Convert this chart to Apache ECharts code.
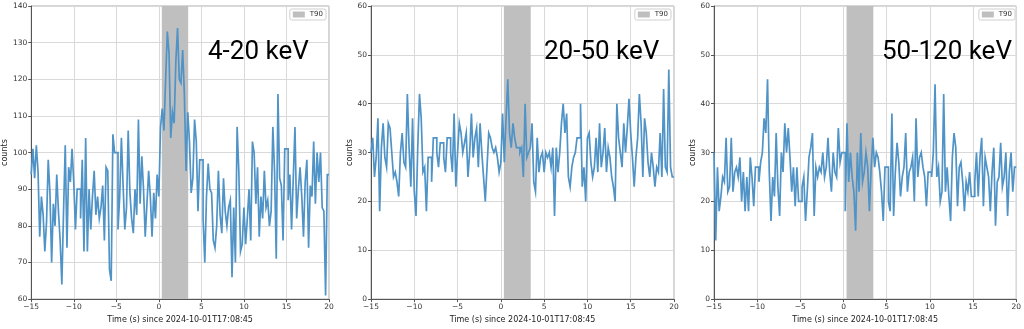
<!DOCTYPE html>
<html>
<head>
<meta charset="utf-8">
<script src="https://cdn.jsdelivr.net/npm/echarts@6/dist/echarts.min.js"></script>
<style>
  html, body { margin: 0; padding: 0; background: #fff; }
  #chart { width: 1024px; height: 329px; }
</style>
</head>
<body>
<div id="chart"></div>
<script>
// Light curves in three energy bands, 0.2 s bins starting at t = -15 s
const binStart = -15;
const binWidth = 0.2;
const t90Window = [0.35, 3.45];
const bandLabels = ['4-20 keV', '20-50 keV', '50-120 keV'];
const xTitle = 'Time (s) since 2024-10-01T17:08:45';
const yTitle = 'counts';

const counts4to20 = [
  94, 101, 93, 102, 95, 77, 88, 83, 73, 81, 98, 89, 70, 86, 80, 94, 84, 76, 64, 84, 102, 74, 96, 92, 101,
  92, 79, 90, 90, 82, 98, 73, 104, 73, 90, 79, 88, 95, 83, 88, 82, 85, 91, 76, 96, 95, 68, 65, 105, 100,
  100, 79, 88, 104, 91, 79, 85, 106, 89, 82, 78, 90, 83, 109, 86, 99, 90, 77, 86, 95, 88, 77, 89, 82, 94,
  88, 107, 112, 106, 120, 133, 127, 104, 111, 108, 125, 134, 120, 119, 128, 116, 95, 111, 103, 89, 93, 109, 103, 84, 98,
  98, 82, 70, 88, 97, 90, 89, 76, 74, 80, 95, 83, 78, 93, 84, 80, 85, 87, 66, 85, 70, 107, 95, 73, 75,
  85, 75, 82, 90, 76, 103, 100, 86, 96, 77, 88, 82, 95, 85, 87, 80, 84, 107, 95, 71, 116, 93, 91, 76, 101,
  101, 87, 94, 79, 93, 107, 82, 90, 96, 88, 77, 92, 98, 74, 91, 88, 103, 86, 100, 92, 100, 85, 84, 61, 94
];
const counts20to50 = [
  30, 33, 25, 29, 37, 18, 31, 36, 29, 27, 36, 35, 30, 25, 26, 24, 21, 30, 34, 28, 27, 42, 31, 23, 37,
  22, 17, 31, 42, 37, 26, 27, 18, 29, 29, 24, 33, 33, 30, 27, 32, 32, 29, 26, 33, 33, 30, 26, 38, 23,
  30, 36, 34, 30, 32, 34, 25, 30, 38, 29, 33, 35, 27, 36, 30, 25, 20, 27, 34, 33, 31, 30, 31, 29, 26,
  28, 38, 28, 37, 45, 34, 31, 36, 33, 31, 31, 30, 31, 25, 40, 29, 30, 31, 36, 24, 22, 33, 26, 29, 30,
  26, 30, 29, 30, 27, 31, 17, 31, 26, 30, 36, 40, 34, 38, 25, 23, 27, 29, 30, 33, 33, 40, 23, 27, 20,
  33, 34, 28, 25, 27, 33, 26, 36, 27, 30, 35, 26, 31, 29, 25, 23, 20, 40, 33, 30, 27, 36, 30, 35, 41,
  34, 29, 23, 29, 33, 42, 36, 25, 37, 34, 28, 25, 30, 27, 23, 27, 26, 34, 25, 43, 27, 26, 47, 27, 25
];
const counts50to120 = [
  30, 12, 27, 18, 21, 25, 24, 33, 22, 23, 33, 22, 26, 27, 25, 29, 20, 26, 18, 25, 18, 29, 25, 19, 27,
  27, 24, 28, 30, 37, 34, 45, 26, 16, 25, 21, 34, 23, 17, 30, 26, 36, 30, 35, 29, 22, 27, 19, 27, 20,
  20, 23, 25, 16, 22, 29, 31, 34, 17, 27, 25, 27, 26, 30, 25, 27, 33, 26, 22, 30, 26, 25, 35, 28, 30,
  30, 18, 36, 24, 30, 25, 22, 14, 30, 22, 34, 24, 26, 30, 27, 18, 27, 33, 27, 30, 29, 26, 22, 16, 27,
  27, 20, 18, 38, 17, 26, 32, 28, 21, 25, 27, 34, 22, 26, 27, 29, 20, 37, 25, 29, 30, 27, 25, 19, 26,
  26, 25, 30, 44, 25, 27, 20, 22, 42, 22, 27, 21, 16, 29, 34, 31, 19, 27, 28, 24, 18, 24, 22, 26, 21,
  21, 24, 30, 21, 29, 33, 19, 29, 27, 25, 18, 26, 31, 15, 24, 25, 32, 23, 25, 30, 17, 26, 30, 22, 27
];
const bandCounts = [counts4to20, counts20to50, counts50to120];
const yRanges = [[60, 140], [0, 60], [0, 60]];

// panel geometry (px)
const panels = [
  { left: 26, width: 303, titleLeft: 208 },
  { left: 371, width: 303, titleLeft: 544 },
  { left: 714, width: 304, titleLeft: 882 }
];
const gridTop = 6, gridHeight = 301;

const lineColor = '#4f93c7';
const shadeColor = '#bfbfbf';
const fontFam = '"DejaVu Sans", sans-serif';

function fmtTick(v) {
  return v < 0 ? '\u2212' + Math.abs(v) : String(v);
}

// histogram outline: each bin contributes its left and right edge at its count
function stepData(vals) {
  const d = [];
  vals.forEach((v, i) => {
    const a = +(binStart + i * binWidth).toFixed(3);
    const b = +(binStart + (i + 1) * binWidth).toFixed(3);
    d.push([a, v], [b, v]);
  });
  return d;
}

const grid = [], xAxis = [], yAxis = [], series = [], title = [], legend = [];

panels.forEach((p, i) => {
  grid.push({
    left: p.left, top: gridTop, width: p.width, height: gridHeight,
    show: true, borderColor: '#aaaaaa', borderWidth: 1, backgroundColor: '#fff'
  });
  xAxis.push({
    type: 'value', gridIndex: i, min: -15, max: 20, interval: 5,
    name: xTitle, nameLocation: 'middle', nameGap: 15,
    nameTextStyle: { fontSize: 8, color: '#222', fontFamily: fontFam },
    axisLine: { show: true, onZero: false, lineStyle: { color: '#555', width: 1 } },
    axisTick: { show: true, length: 3, lineStyle: { color: '#555' } },
    axisLabel: { fontSize: 7.5, color: '#333', margin: 4, formatter: fmtTick, fontFamily: fontFam },
    splitLine: { show: true, lineStyle: { color: '#d9d9d9', width: 1 } }
  });
  yAxis.push({
    type: 'value', gridIndex: i, min: yRanges[i][0], max: yRanges[i][1], interval: 10,
    name: yTitle, nameLocation: 'middle', nameGap: i === 0 ? 18 : 15, nameRotate: 90,
    nameTextStyle: { fontSize: 8, color: '#222', fontFamily: fontFam },
    axisLine: { show: true, onZero: false, lineStyle: { color: '#555', width: 1 } },
    axisTick: { show: true, length: 3, lineStyle: { color: '#555' } },
    axisLabel: { fontSize: 7.5, color: '#333', margin: 4, fontFamily: fontFam },
    splitLine: { show: true, lineStyle: { color: '#d9d9d9', width: 1 } }
  });
  series.push({
    type: 'line', name: bandLabels[i], xAxisIndex: i, yAxisIndex: i,
    showSymbol: false, symbol: 'none', animation: false, sampling: null,
    data: stepData(bandCounts[i]),
    lineStyle: { color: lineColor, width: 1.7, join: 'miter' },
    z: 3,
    markArea: {
      silent: true,
      itemStyle: { color: shadeColor, opacity: 1 },
      data: [[{ xAxis: t90Window[0] }, { xAxis: t90Window[1] }]]
    }
  });
  // legend entry for the shaded T90 window
  series.push({
    type: 'line', name: 'T90', xAxisIndex: i, yAxisIndex: i, data: [],
    itemStyle: { color: shadeColor }, lineStyle: { color: shadeColor }
  });
  legend.push({
    data: ['T90'], right: 1024 - (p.left + p.width) + 3, top: gridTop + 3,
    orient: 'vertical', icon: 'rect', itemWidth: 12, itemHeight: 6, itemGap: 2,
    padding: [2, 3, 2, 3], borderColor: '#d0d0d0', borderWidth: 1, borderRadius: 2,
    backgroundColor: '#fff', selectedMode: false,
    textStyle: { fontSize: 7, color: '#333', fontFamily: fontFam }
  });
  title.push({
    text: bandLabels[i], left: p.titleLeft, top: 39, padding: 0,
    textStyle: { fontSize: 26, fontWeight: 'normal', color: '#000', fontFamily: 'Roboto, sans-serif' }
  });
});

const chart = echarts.init(document.getElementById('chart'), null, { renderer: 'canvas' });
chart.setOption({
  animation: false,
  backgroundColor: '#fff',
  title, legend, grid, xAxis, yAxis, series
});
</script>
</body>
</html>
